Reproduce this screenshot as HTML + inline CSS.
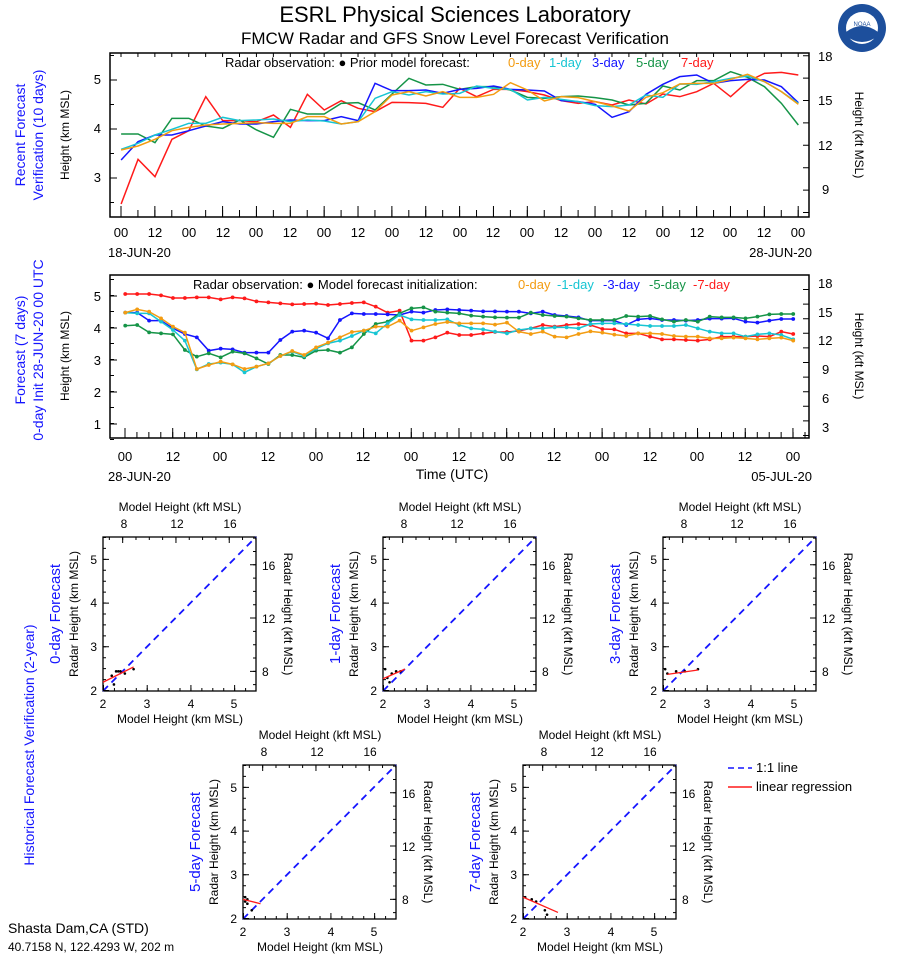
<!DOCTYPE html>
<html><head><meta charset="utf-8"><style>
body{margin:0;background:#fff}
svg{display:block;font-family:"Liberation Sans",sans-serif}
.n{vector-effect:non-scaling-stroke;fill:none;stroke-width:1.5}
</style></head><body>
<svg width="898" height="956" viewBox="0 0 898 956">
<defs>
<marker id="mr" markerUnits="userSpaceOnUse" markerWidth="1" markerHeight="12" refX="0.5" refY="6" viewBox="0 0 1 12" overflow="visible"><ellipse cx="0.5" cy="6" rx="0.16" ry="5.6" fill="#ff1a1a"/></marker>
<marker id="mb" markerUnits="userSpaceOnUse" markerWidth="1" markerHeight="12" refX="0.5" refY="6" viewBox="0 0 1 12" overflow="visible"><ellipse cx="0.5" cy="6" rx="0.16" ry="5.6" fill="#1515ff"/></marker>
<marker id="mg" markerUnits="userSpaceOnUse" markerWidth="1" markerHeight="12" refX="0.5" refY="6" viewBox="0 0 1 12" overflow="visible"><ellipse cx="0.5" cy="6" rx="0.16" ry="5.6" fill="#159447"/></marker>
<marker id="mc" markerUnits="userSpaceOnUse" markerWidth="1" markerHeight="12" refX="0.5" refY="6" viewBox="0 0 1 12" overflow="visible"><ellipse cx="0.5" cy="6" rx="0.16" ry="5.6" fill="#17c5d3"/></marker>
<marker id="mo" markerUnits="userSpaceOnUse" markerWidth="1" markerHeight="12" refX="0.5" refY="6" viewBox="0 0 1 12" overflow="visible"><ellipse cx="0.5" cy="6" rx="0.16" ry="5.6" fill="#f39c12"/></marker>
<g id="pan">
<rect x="0" y="0" width="153" height="154" fill="none" stroke="#000" stroke-width="1.3"/>
<line x1="0" y1="154" x2="153" y2="0" stroke="#1515ff" stroke-width="1.8" stroke-dasharray="7,5"/>
<line x1="1.5" y1="154" x2="1.5" y2="0" stroke="#000" stroke-width="3" stroke-dasharray="1 9.93"/>
<line x1="3" y1="154" x2="3" y2="0" stroke="#000" stroke-width="6" stroke-dasharray="1 42.71"/>
<line x1="0" y1="152.5" x2="153" y2="152.5" stroke="#000" stroke-width="3" stroke-dasharray="1 9.93"/>
<line x1="0" y1="151" x2="153" y2="151" stroke="#000" stroke-width="6" stroke-dasharray="1 42.71"/>
<line x1="151.5" y1="148.16" x2="151.5" y2="0" stroke="#000" stroke-width="3" stroke-dasharray="1 12.32"/>
<line x1="150" y1="134.83" x2="150" y2="0" stroke="#000" stroke-width="6" stroke-dasharray="1 52.29"/>
<line x1="5.84" y1="1.5" x2="153" y2="1.5" stroke="#000" stroke-width="3" stroke-dasharray="1 12.32"/>
<line x1="19.17" y1="3" x2="153" y2="3" stroke="#000" stroke-width="6" stroke-dasharray="1 52.29"/>
</g>
</defs>
<rect width="898" height="956" fill="#fff"/>
<text x="455" y="22" font-size="22" text-anchor="middle">ESRL Physical Sciences Laboratory</text>
<text x="455" y="44" font-size="17" text-anchor="middle">FMCW Radar and GFS Snow Level Forecast Verification</text>
<circle cx="862" cy="28" r="24" fill="#1d4f9c"/><circle cx="862" cy="28" r="16" fill="#fff"/><path d="M846 32 Q862 20 878 32 L878 36 Q862 48 846 36Z" fill="#1d4f9c"/><text x="862" y="26" font-size="6" text-anchor="middle" fill="#1d4f9c">NOAA</text>

<!-- top panel -->
<rect x="110" y="53" width="699" height="164" fill="none" stroke="#000" stroke-width="1.5"/>
<line x1="120.5" y1="213.5" x2="810" y2="213.5" stroke="#000" stroke-width="7" stroke-dasharray="1 15.93"/>
<line x1="120.5" y1="211.5" x2="810" y2="211.5" stroke="#000" stroke-width="11" stroke-dasharray="1 32.86"/>
<line x1="120.5" y1="55" x2="810" y2="55" stroke="#000" stroke-width="4" stroke-dasharray="1 15.93"/>
<line x1="112" y1="203" x2="112" y2="53" stroke="#000" stroke-width="4" stroke-dasharray="1 23.5"/>
<line x1="113.5" y1="178.5" x2="113.5" y2="53" stroke="#000" stroke-width="7" stroke-dasharray="1 48"/>
<line x1="806" y1="213" x2="806" y2="53" stroke="#000" stroke-width="6" stroke-dasharray="1 21.4"/>
<text x="225" y="67" font-size="13">Radar observation:  ●   Prior model forecast:</text>
<text x="508" y="67" font-size="13" fill="#f39c12">0-day</text><text x="549" y="67" font-size="13" fill="#17c5d3">1-day</text><text x="592" y="67" font-size="13" fill="#1515ff">3-day</text><text x="636" y="67" font-size="13" fill="#159447">5-day</text><text x="681" y="67" font-size="13" fill="#ff1a1a">7-day</text>
<g font-size="13" text-anchor="end"><text x="101" y="84">5</text><text x="101" y="133">4</text><text x="101" y="182">3</text></g>
<g font-size="13"><text x="818" y="61">18</text><text x="818" y="105">15</text><text x="818" y="150">12</text><text x="822" y="194">9</text></g>
<text transform="translate(69,135) rotate(-90)" font-size="12" text-anchor="middle">Height (km MSL)</text>
<text transform="translate(855,135) rotate(90)" font-size="12" text-anchor="middle">Height (kft MSL)</text>
<text transform="translate(25,135) rotate(-90)" font-size="14" fill="#1515ff" text-anchor="middle">Recent Forecast</text>
<text transform="translate(43,135) rotate(-90)" font-size="14" fill="#1515ff" text-anchor="middle">Verification (10 days)</text>
<g font-size="13" text-anchor="middle"><text x="121" y="237">00</text><text x="155" y="237">12</text><text x="189" y="237">00</text><text x="223" y="237">12</text><text x="256" y="237">00</text><text x="290" y="237">12</text><text x="324" y="237">00</text><text x="358" y="237">12</text><text x="392" y="237">00</text><text x="426" y="237">12</text><text x="460" y="237">00</text><text x="493" y="237">12</text><text x="527" y="237">00</text><text x="561" y="237">12</text><text x="595" y="237">00</text><text x="629" y="237">12</text><text x="663" y="237">00</text><text x="697" y="237">12</text><text x="730" y="237">00</text><text x="764" y="237">12</text><text x="798" y="237">00</text></g>
<text x="108" y="257" font-size="13">18-JUN-20</text><text x="812" y="257" font-size="13" text-anchor="end">28-JUN-20</text>
<g transform="translate(121.12,40) scale(16.93,0.33333)">
<polyline class="n" stroke="#ff1a1a" points="0,492 1,358 2,410 3,298 4,272 5,170 6,242 7,242 8,245 9,225 10,262 11,163 12,210 13,182 14,205 15,215 16,187 17,188 18,190 19,202 20,145 21,170 22,148 23,148 24,155 25,165 26,182 27,190 28,185 29,195 30,180 31,192 32,162 33,170 34,155 35,130 36,170 37,125 38,100 39,97 40,105"/>
<polyline class="n" stroke="#159447" points="0,282 1,282 2,308 3,235 4,235 5,258 6,265 7,240 8,270 9,292 10,208 11,222 12,222 13,190 14,188 15,210 16,162 17,115 18,135 19,133 20,148 21,140 22,140 23,150 24,172 25,175 26,170 27,168 28,173 29,180 30,195 31,190 32,138 33,150 34,122 35,122 36,95 37,112 38,140 39,190 40,255"/>
<polyline class="n" stroke="#1515ff" points="0,360 1,305 2,285 3,285 4,272 5,258 6,245 7,252 8,252 9,245 10,240 11,242 12,242 13,230 14,242 15,130 16,152 17,152 18,150 19,160 20,148 21,145 22,138 23,148 24,150 25,153 26,182 27,185 28,193 29,232 30,215 31,163 32,133 33,110 34,105 35,130 36,122 37,118 38,120 39,140 40,188"/>
<polyline class="n" stroke="#17c5d3" points="0,328 1,310 2,285 3,268 4,250 5,250 6,232 7,242 8,240 9,237 10,245 11,240 12,243 13,252 14,245 15,175 16,155 17,165 18,155 19,162 20,160 21,138 22,145 23,148 24,180 25,172 26,178 27,185 28,197 29,200 30,195 31,165 32,172 33,132 34,133 35,125 36,115 37,108 38,125 39,155 40,190"/>
<polyline class="n" stroke="#f39c12" points="0,330 1,318 2,298 3,272 4,262 5,255 6,252 7,250 8,248 9,250 10,250 11,230 12,230 13,252 14,245 15,215 16,165 17,155 18,168 19,155 20,172 21,172 22,163 23,128 24,150 25,183 26,170 27,173 28,185 29,198 30,213 31,172 32,158 33,132 34,130 35,130 36,118 37,103 38,125 39,155 40,193"/>
</g>

<!-- middle panel -->
<rect x="110" y="275" width="699" height="163" fill="none" stroke="#000" stroke-width="1.5"/>
<line x1="124.5" y1="435" x2="810" y2="435" stroke="#000" stroke-width="6" stroke-dasharray="1 10.93"/>
<line x1="124.5" y1="433" x2="810" y2="433" stroke="#000" stroke-width="10" stroke-dasharray="1 46.71"/>
<line x1="112" y1="440" x2="112" y2="275" stroke="#000" stroke-width="4" stroke-dasharray="1 15" stroke-dashoffset="0"/>
<line x1="113.5" y1="424.5" x2="113.5" y2="275" stroke="#000" stroke-width="7" stroke-dasharray="1 31"/>
<line x1="806" y1="436" x2="806" y2="275" stroke="#000" stroke-width="6" stroke-dasharray="1 13.6"/>
<text x="193" y="289" font-size="13">Radar observation:  ●   Model forecast initialization:</text>
<text x="518" y="289" font-size="13" fill="#f39c12">0-day</text><text x="557" y="289" font-size="13" fill="#17c5d3">-1-day</text><text x="603" y="289" font-size="13" fill="#1515ff">-3-day</text><text x="649" y="289" font-size="13" fill="#159447">-5-day</text><text x="693" y="289" font-size="13" fill="#ff1a1a">-7-day</text>
<g font-size="13" text-anchor="end"><text x="101" y="301">5</text><text x="101" y="333">4</text><text x="101" y="365">3</text><text x="101" y="397">2</text><text x="101" y="429">1</text></g>
<g font-size="13"><text x="818" y="288">18</text><text x="818" y="317">15</text><text x="818" y="345">12</text><text x="822" y="374">9</text><text x="822" y="403">6</text><text x="822" y="432">3</text></g>
<text transform="translate(69,356) rotate(-90)" font-size="12" text-anchor="middle">Height (km MSL)</text>
<text transform="translate(855,356) rotate(90)" font-size="12" text-anchor="middle">Height (kft MSL)</text>
<text transform="translate(25,350) rotate(-90)" font-size="14" fill="#1515ff" text-anchor="middle">Forecast (7 days)</text>
<text transform="translate(43,350) rotate(-90)" font-size="14" fill="#1515ff" text-anchor="middle">0-day Init 28-JUN-20 00 UTC</text>
<g font-size="13" text-anchor="middle"><text x="125" y="461">00</text><text x="173" y="461">12</text><text x="220" y="461">00</text><text x="268" y="461">12</text><text x="316" y="461">00</text><text x="363" y="461">12</text><text x="411" y="461">00</text><text x="459" y="461">12</text><text x="507" y="461">00</text><text x="554" y="461">12</text><text x="602" y="461">00</text><text x="650" y="461">12</text><text x="697" y="461">00</text><text x="745" y="461">12</text><text x="793" y="461">00</text></g>
<text x="108" y="481" font-size="13">28-JUN-20</text><text x="812" y="481" font-size="13" text-anchor="end">05-JUL-20</text>
<text x="452" y="479" font-size="14" text-anchor="middle">Time (UTC)</text>
<g transform="translate(125.25,270) scale(11.928,0.33333)">
<polyline class="n" stroke="#ff1a1a" marker-start="url(#mr)" marker-mid="url(#mr)" marker-end="url(#mr)" points="0,72 1,72 2,72 3,76 4,84 5,84 6,82 7,82 8,88 9,82 10,85 11,94 12,97 13,100 14,103 15,102 16,101 17,105 18,102 19,99 20,97 21,110 22,128 23,122 24,212 25,212 26,202 27,188 28,195 29,195 30,190 31,186 32,186 33,183 34,175 35,165 36,170 37,165 38,162 39,165 40,177 41,178 42,190 43,190 44,200 45,208 46,208 47,210 48,212 49,208 50,200 51,200 52,200 53,198 54,200 55,185 56,192"/>
<polyline class="n" stroke="#1515ff" marker-start="url(#mb)" marker-mid="url(#mb)" marker-end="url(#mb)" points="0,128 1,128 2,152 3,152 4,175 5,192 6,202 7,242 8,236 9,238 10,248 11,248 12,248 13,210 14,185 15,182 16,188 17,205 18,150 19,130 20,132 21,132 22,133 23,135 24,125 25,128 26,120 27,118 28,120 29,122 30,124 31,124 32,125 33,125 34,130 35,125 36,135 37,138 38,142 39,152 40,152 41,152 42,165 43,148 44,145 45,150 46,150 47,152 48,150 49,146 50,146 51,145 52,155 53,158 54,152 55,147 56,147"/>
<polyline class="n" stroke="#159447" marker-start="url(#mg)" marker-mid="url(#mg)" marker-end="url(#mg)" points="0,167 1,165 2,187 3,190 4,193 5,240 6,260 7,250 8,262 9,245 10,250 11,265 12,282 13,255 14,255 15,262 16,242 17,240 18,248 19,232 20,192 21,162 22,155 23,130 24,115 25,112 26,125 27,128 28,130 29,137 30,140 31,142 32,143 33,143 34,128 35,135 36,138 37,140 38,145 39,150 40,150 41,150 42,138 43,140 44,138 45,148 46,155 47,150 48,155 49,140 50,142 51,142 52,145 53,140 54,133 55,132 56,132"/>
<polyline class="n" stroke="#17c5d3" marker-start="url(#mc)" marker-mid="url(#mc)" marker-end="url(#mc)" points="0,128 1,130 2,130 3,155 4,180 5,212 6,298 7,282 8,278 9,283 10,307 11,290 12,280 13,258 14,245 15,258 16,236 17,220 18,212 19,198 20,182 21,190 22,160 23,135 24,148 25,150 26,150 27,148 28,165 29,175 30,178 31,185 32,190 33,180 34,175 35,175 36,172 37,172 38,175 39,162 40,160 41,160 42,162 43,165 44,168 45,168 46,168 47,165 48,175 49,185 50,190 51,190 52,200 53,193 54,190 55,195 56,208"/>
<polyline class="n" stroke="#f39c12" marker-start="url(#mo)" marker-mid="url(#mo)" marker-end="url(#mo)" points="0,128 1,118 2,125 3,145 4,170 5,188 6,297 7,285 8,275 9,283 10,297 11,290 12,280 13,258 14,243 15,255 16,232 17,218 18,202 19,186 20,182 21,170 22,170 23,152 24,182 25,172 26,162 27,156 28,160 29,160 30,160 31,164 32,158 33,185 34,192 35,185 36,200 37,202 38,192 39,184 40,188 41,194 42,198 43,190 44,190 45,192 46,198 47,200 48,200 49,205 50,205 51,203 52,205 53,208 54,205 55,203 56,212"/>
</g>

<text transform="translate(34,745) rotate(-90)" font-size="14" fill="#1515ff" text-anchor="middle">Historical Forecast Verification (2-year)</text>

<!-- scatter panels -->
<use href="#pan" x="103" y="537"/><use href="#pan" x="383" y="537"/><use href="#pan" x="663" y="537"/><use href="#pan" x="243" y="765"/><use href="#pan" x="523" y="765"/>
<g transform="translate(103,691) scale(43.71,-43.71) translate(-2,-2)">
<g fill="#000"><circle cx="2.2" cy="2.35" r="0.03"/><circle cx="2.3" cy="2.45" r="0.03"/><circle cx="2.35" cy="2.45" r="0.03"/><circle cx="2.25" cy="2.15" r="0.03"/><circle cx="2.5" cy="2.4" r="0.03"/><circle cx="2.7" cy="2.5" r="0.03"/><circle cx="2.4" cy="2.45" r="0.03"/></g>
<line class="n" x1="2" y1="2.2" x2="2.7" y2="2.55" stroke="#ff1a1a" style="stroke-width:1.3"/></g>
<g transform="translate(383,691) scale(43.71,-43.71) translate(-2,-2)">
<g fill="#000"><circle cx="2.05" cy="2.5" r="0.03"/><circle cx="2.1" cy="2.3" r="0.03"/><circle cx="2.2" cy="2.4" r="0.03"/><circle cx="2.3" cy="2.45" r="0.03"/><circle cx="2.4" cy="2.45" r="0.03"/><circle cx="2.15" cy="2.2" r="0.03"/></g>
<line class="n" x1="2" y1="2.28" x2="2.5" y2="2.5" stroke="#ff1a1a" style="stroke-width:1.3"/></g>
<g transform="translate(663,691) scale(43.71,-43.71) translate(-2,-2)">
<g fill="#000"><circle cx="2.05" cy="2.5" r="0.03"/><circle cx="2.1" cy="2.4" r="0.03"/><circle cx="2.3" cy="2.45" r="0.03"/><circle cx="2.5" cy="2.45" r="0.03"/><circle cx="2.8" cy="2.5" r="0.03"/></g>
<line class="n" x1="2.1" y1="2.38" x2="2.8" y2="2.48" stroke="#ff1a1a" style="stroke-width:1.3"/></g>
<g transform="translate(243,919) scale(43.71,-43.71) translate(-2,-2)">
<g fill="#000"><circle cx="2.05" cy="2.5" r="0.03"/><circle cx="2.1" cy="2.45" r="0.03"/><circle cx="2.1" cy="2.35" r="0.03"/><circle cx="2.2" cy="2.2" r="0.03"/><circle cx="2.05" cy="2.4" r="0.03"/></g>
<line class="n" x1="2" y1="2.45" x2="2.4" y2="2.35" stroke="#ff1a1a" style="stroke-width:1.3"/></g>
<g transform="translate(523,919) scale(43.71,-43.71) translate(-2,-2)">
<g fill="#000"><circle cx="2.05" cy="2.5" r="0.03"/><circle cx="2.3" cy="2.4" r="0.03"/><circle cx="2.5" cy="2.2" r="0.03"/><circle cx="2.55" cy="2.1" r="0.03"/><circle cx="2.2" cy="2.45" r="0.03"/></g>
<line class="n" x1="2" y1="2.5" x2="2.8" y2="2.15" stroke="#ff1a1a" style="stroke-width:1.3"/></g>

<line x1="728" y1="768" x2="752" y2="768" stroke="#1515ff" stroke-width="1.5" stroke-dasharray="6,4"/><text x="756" y="772" font-size="13">1:1 line</text>
<line x1="728" y1="787" x2="752" y2="787" stroke="#ff1a1a" stroke-width="1.5"/><text x="756" y="791" font-size="13">linear regression</text>
<text x="8" y="933" font-size="14">Shasta Dam,CA (STD)</text>
<text x="8" y="951" font-size="12">40.7158 N, 122.4293 W, 202 m</text>

<g font-size="12" text-anchor="middle">
<text x="180" y="511">Model Height (kft MSL)</text><text x="124" y="528">8</text><text x="177" y="528">12</text><text x="230" y="528">16</text>
<text x="460" y="511">Model Height (kft MSL)</text><text x="404" y="528">8</text><text x="457" y="528">12</text><text x="510" y="528">16</text>
<text x="740" y="511">Model Height (kft MSL)</text><text x="684" y="528">8</text><text x="737" y="528">12</text><text x="790" y="528">16</text>
<text x="320" y="739">Model Height (kft MSL)</text><text x="264" y="756">8</text><text x="317" y="756">12</text><text x="370" y="756">16</text>
<text x="600" y="739">Model Height (kft MSL)</text><text x="544" y="756">8</text><text x="597" y="756">12</text><text x="650" y="756">16</text>
<text x="180" y="723">Model Height (km MSL)</text><text x="103" y="708">2</text><text x="147" y="708">3</text><text x="191" y="708">4</text><text x="234" y="708">5</text>
<text x="460" y="723">Model Height (km MSL)</text><text x="383" y="708">2</text><text x="427" y="708">3</text><text x="471" y="708">4</text><text x="514" y="708">5</text>
<text x="740" y="723">Model Height (km MSL)</text><text x="663" y="708">2</text><text x="707" y="708">3</text><text x="751" y="708">4</text><text x="794" y="708">5</text>
<text x="320" y="951">Model Height (km MSL)</text><text x="243" y="936">2</text><text x="287" y="936">3</text><text x="331" y="936">4</text><text x="374" y="936">5</text>
<text x="600" y="951">Model Height (km MSL)</text><text x="523" y="936">2</text><text x="567" y="936">3</text><text x="611" y="936">4</text><text x="654" y="936">5</text>
</g>
<g font-size="12" text-anchor="end">
<text x="97" y="695">2</text><text x="97" y="651">3</text><text x="97" y="607">4</text><text x="97" y="564">5</text>
<text x="377" y="695">2</text><text x="377" y="651">3</text><text x="377" y="607">4</text><text x="377" y="564">5</text>
<text x="657" y="695">2</text><text x="657" y="651">3</text><text x="657" y="607">4</text><text x="657" y="564">5</text>
<text x="237" y="923">2</text><text x="237" y="879">3</text><text x="237" y="835">4</text><text x="237" y="792">5</text>
<text x="517" y="923">2</text><text x="517" y="879">3</text><text x="517" y="835">4</text><text x="517" y="792">5</text>
</g>
<g font-size="12">
<text x="262" y="676">8</text><text x="262" y="623">12</text><text x="262" y="570">16</text>
<text x="542" y="676">8</text><text x="542" y="623">12</text><text x="542" y="570">16</text>
<text x="822" y="676">8</text><text x="822" y="623">12</text><text x="822" y="570">16</text>
<text x="402" y="904">8</text><text x="402" y="851">12</text><text x="402" y="798">16</text>
<text x="682" y="904">8</text><text x="682" y="851">12</text><text x="682" y="798">16</text>
</g>
<g font-size="12" text-anchor="middle">
<text transform="translate(78,614) rotate(-90)">Radar Height (km MSL)</text><text transform="translate(284,614) rotate(90)">Radar Height (kft MSL)</text>
<text transform="translate(358,614) rotate(-90)">Radar Height (km MSL)</text><text transform="translate(564,614) rotate(90)">Radar Height (kft MSL)</text>
<text transform="translate(638,614) rotate(-90)">Radar Height (km MSL)</text><text transform="translate(844,614) rotate(90)">Radar Height (kft MSL)</text>
<text transform="translate(218,842) rotate(-90)">Radar Height (km MSL)</text><text transform="translate(424,842) rotate(90)">Radar Height (kft MSL)</text>
<text transform="translate(498,842) rotate(-90)">Radar Height (km MSL)</text><text transform="translate(704,842) rotate(90)">Radar Height (kft MSL)</text>
</g>
<g font-size="15" fill="#1515ff" text-anchor="middle">
<text transform="translate(60,614) rotate(-90)">0-day Forecast</text>
<text transform="translate(340,614) rotate(-90)">1-day Forecast</text>
<text transform="translate(620,614) rotate(-90)">3-day Forecast</text>
<text transform="translate(200,842) rotate(-90)">5-day Forecast</text>
<text transform="translate(480,842) rotate(-90)">7-day Forecast</text>
</g>
</svg>
</body></html>
